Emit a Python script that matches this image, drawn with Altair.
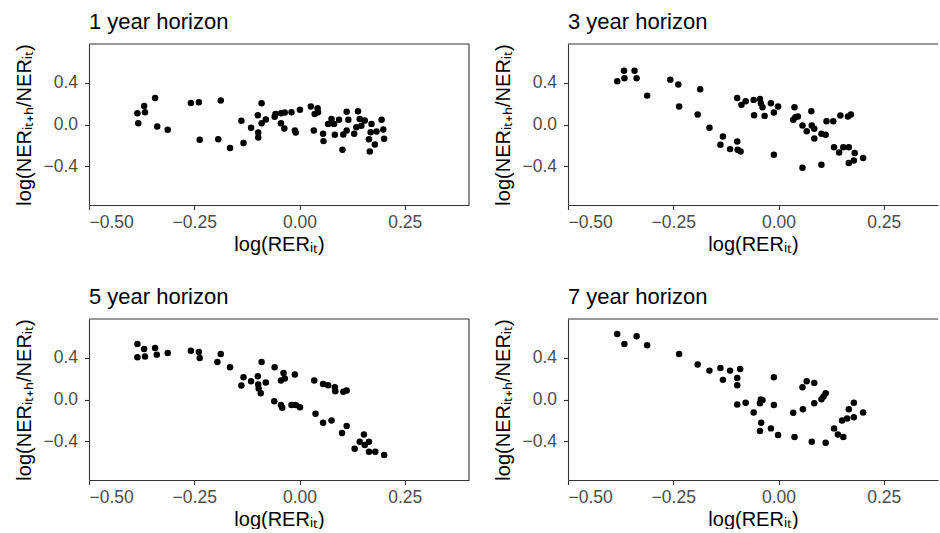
import altair as alt
import pandas as pd

# log(RER_it) and log(NER_it+h / NER_it) pairs, one set per horizon
h1_x = [-0.385, -0.383, -0.369, -0.367, -0.343, -0.338, -0.313, -0.258, -0.239, -0.237,
        -0.187, -0.193, -0.165, -0.138, -0.133, -0.115, -0.099, -0.098, -0.098, -0.090,
        -0.090, -0.080, -0.059, -0.057, -0.044, -0.044, -0.036, -0.035, -0.019, -0.011,
        -0.009, 0.001, 0.027, 0.034, 0.036, 0.043, 0.044, 0.056, 0.057, 0.068,
        0.076, 0.082, 0.084, 0.094, 0.102, 0.104, 0.112, 0.112, 0.116, 0.130,
        0.139, 0.135, 0.143, 0.147, 0.155, 0.165, 0.167, 0.169, 0.171, 0.179,
        0.183, 0.195, 0.199, 0.201]
h1_y = [0.109, 0.013, 0.179, 0.118, 0.256, -0.019, -0.051, 0.208, 0.214, -0.147,
        0.230, -0.141, -0.227, 0.035, -0.179, -0.032, 0.090, -0.077, -0.125, 0.205,
        0.013, 0.048, 0.074, 0.102, 0.109, 0.013, -0.038, 0.115, 0.118, -0.058,
        -0.077, 0.141, 0.173, -0.058, 0.102, 0.157, 0.118, -0.090, -0.160, 0.006,
        0.054, 0.006, -0.099, 0.045, -0.243, -0.096, -0.058, 0.122, 0.045, -0.090,
        0.128, -0.026, 0.054, -0.013, 0.038, -0.141, -0.259, -0.074, 0.006, -0.192,
        -0.067, 0.045, -0.048, -0.138]

h3_x = [-0.383, -0.367, -0.366, -0.342, -0.337, -0.312, -0.257, -0.238, -0.236, -0.186,
        -0.192, -0.164, -0.132, -0.138, -0.115, -0.098, -0.098, -0.097, -0.090, -0.088,
        -0.078, -0.059, -0.058, -0.044, -0.042, -0.038, -0.033, -0.018, -0.011, -0.011,
        -0.001, 0.035, 0.038, 0.040, 0.046, 0.057, 0.057, 0.067, 0.078, 0.079,
        0.085, 0.085, 0.102, 0.112, 0.102, 0.114, 0.130, 0.132, 0.144, 0.147,
        0.154, 0.167, 0.165, 0.172, 0.167, 0.181, 0.179, 0.201]
h3_y = [0.416, 0.518, 0.445, 0.518, 0.445, 0.278, 0.432, 0.384, 0.173, 0.339,
        0.096, -0.032, -0.115, -0.195, -0.237, 0.256, -0.163, -0.243, -0.259, 0.189,
        0.224, 0.237, 0.090, 0.246, 0.205, 0.166, 0.083, 0.205, 0.115, -0.291,
        0.173, 0.045, 0.166, 0.070, 0.077, -0.010, -0.416, -0.064, 0.128, -0.010,
        -0.042, -0.134, -0.090, -0.099, -0.387, 0.032, 0.032, -0.218, -0.269, 0.086,
        -0.218, -0.218, 0.077, 0.096, -0.371, -0.275, -0.346, -0.323]

h5_x = [-0.385, -0.385, -0.369, -0.367, -0.343, -0.339, -0.313, -0.258, -0.239, -0.237,
        -0.195, -0.187, -0.165, -0.138, -0.133, -0.115, -0.099, -0.098, -0.097, -0.092,
        -0.090, -0.080, -0.060, -0.059, -0.044, -0.044, -0.041, -0.038, -0.035, -0.019,
        -0.011, -0.009, 0.001, 0.035, 0.038, 0.056, 0.056, 0.068, 0.076, 0.084,
        0.085, 0.101, 0.104, 0.112, 0.112, 0.131, 0.143, 0.153, 0.155, 0.165,
        0.165, 0.180, 0.201]
h5_y = [0.534, 0.406, 0.486, 0.413, 0.496, 0.432, 0.448, 0.470, 0.458, 0.400,
        0.362, 0.438, 0.310, 0.134, 0.214, 0.176, 0.224, 0.144, 0.106, 0.061,
        0.362, 0.163, -0.016, 0.310, 0.182, -0.054, -0.080, 0.256, 0.202, -0.054,
        0.240, -0.054, -0.074, 0.182, -0.138, 0.150, -0.224, 0.138, -0.202, 0.118,
        0.080, -0.323, 0.074, 0.086, -0.256, -0.474, -0.406, -0.336, -0.438, -0.406,
        -0.502, -0.502, -0.534]

h7_x = [-0.383, -0.366, -0.337, -0.312, -0.236, -0.192, -0.164, -0.138, -0.132, -0.115,
        -0.098, -0.098, -0.098, -0.091, -0.078, -0.059, -0.042, -0.044, -0.038, -0.041,
        -0.044, -0.018, -0.011, -0.011, -0.001, 0.035, 0.038, 0.057, 0.058, 0.067,
        0.085, 0.085, 0.079, 0.102, 0.107, 0.112, 0.112, 0.132, 0.141, 0.154,
        0.151, 0.163, 0.167, 0.179, 0.179, 0.201]
h7_y = [0.630, 0.534, 0.608, 0.522, 0.438, 0.336, 0.278, 0.304, 0.189, 0.278,
        0.208, 0.138, -0.048, 0.294, -0.032, -0.125, 0.000, -0.035, -0.006, -0.224,
        -0.304, -0.278, 0.214, -0.054, -0.342, -0.128, -0.362, 0.118, -0.093, 0.176,
        0.160, -0.035, -0.406, 0.003, 0.029, 0.061, -0.416, -0.278, -0.336, -0.362,
        -0.202, -0.182, -0.093, -0.170, -0.032, -0.125]

titles = ["1 year horizon", "3 year horizon", "5 year horizon", "7 year horizon"]
series = [(h1_x, h1_y), (h3_x, h3_y), (h5_x, h5_y), (h7_x, h7_y)]

x_ticks = [-0.5, -0.25, 0.0, 0.25]
y_ticks = [-0.4, 0.0, 0.4]
y_domain = [-0.775, 0.775]

FONT = "Liberation Sans"
FRAME = "#333333"
PX_PER_UNIT = 421.0
H = 161
W_LEFT = 380
W_RIGHT = 370

x_title = "log(RERᵢₜ)"
y_title = "log(NERᵢₜ₊ₕ/NERᵢₜ)"


def minus_expr(fmt):
    # typographic minus sign on negative tick labels
    return f"replace(format(datum.value, '{fmt}'), '-', '\u2212')"


def panel(title, xs, ys, width, right_border):
    df = pd.DataFrame({"rer": xs, "ner": ys})
    x_dom = [-0.5, -0.5 + width / PX_PER_UNIT]
    pts = alt.Chart(df).mark_circle(size=42, color="black", opacity=1).encode(
        x=alt.X("rer:Q",
                scale=alt.Scale(domain=x_dom, nice=False, zero=False),
                axis=alt.Axis(values=x_ticks, labelExpr=minus_expr(".2f"), title=x_title,
                              labelPadding=4, titlePadding=3)),
        y=alt.Y("ner:Q",
                scale=alt.Scale(domain=y_domain, nice=False, zero=False),
                axis=alt.Axis(values=y_ticks, labelExpr=minus_expr(".1f"), title=y_title,
                              labelPadding=7, titlePadding=8)),
    )
    one = pd.DataFrame({"k": [0]})
    top = alt.Chart(one).mark_rule(color=FRAME, strokeWidth=1.1).encode(
        x=alt.value(0), x2=alt.value(width), y=alt.value(0))
    heading = alt.Chart(one).mark_text(
        text=title, align="left", baseline="alphabetic", font=FONT, fontSize=22,
        color="black").encode(x=alt.value(0), y=alt.value(-15))
    layers = [pts, top, heading]
    if right_border:
        right = alt.Chart(one).mark_rule(color=FRAME, strokeWidth=1.1).encode(
            x=alt.value(width), y=alt.value(0), y2=alt.value(H))
        layers.append(right)
    return alt.layer(*layers).properties(width=width, height=H)


p = [panel(titles[i], series[i][0], series[i][1],
           W_LEFT if i % 2 == 0 else W_RIGHT, i % 2 == 0) for i in range(4)]

chart = alt.vconcat(
    alt.hconcat(p[0], p[1], spacing=23),
    alt.hconcat(p[2], p[3], spacing=23),
    spacing=32,
).properties(
    padding={"left": 14, "top": 11, "right": 0, "bottom": 0},
    background="white",
).configure_view(stroke=None).configure_axis(
    grid=False,
    domainColor=FRAME, domainWidth=1.1,
    tickColor=FRAME, tickWidth=1.1, tickSize=4.5,
    labelFont=FONT, labelFontSize=17.5, labelColor="#4D4D4D",
    titleFont=FONT, titleFontSize=20, titleFontWeight="normal", titleColor="black",
)

chart.save("out.html", embed_options={"renderer": "svg", "actions": False})
